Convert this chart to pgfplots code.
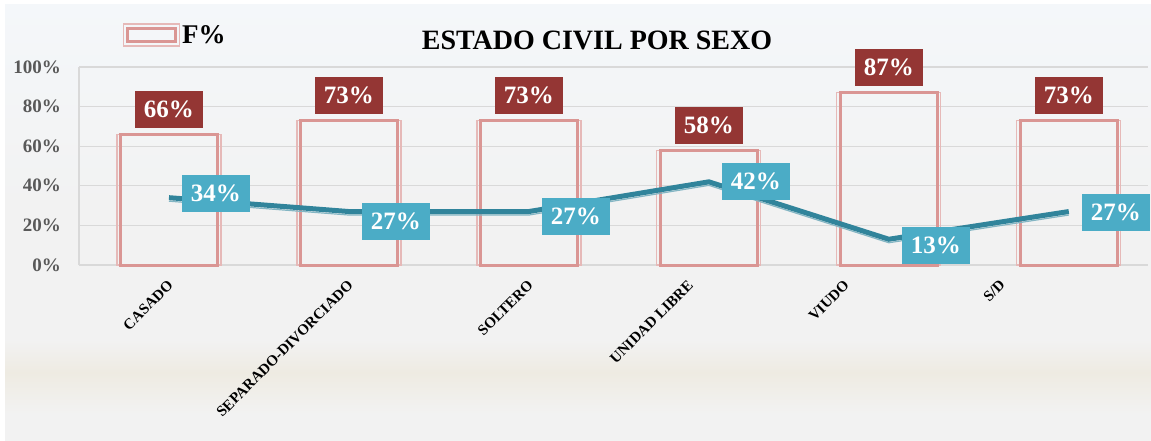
\documentclass[border=0pt]{standalone}
\usepackage{fontspec}
\setmainfont{Liberation Serif}
\usepackage{pgfplots}
\usepackage{pgfplotstable}
\pgfplotsset{compat=1.18}
\definecolor{barred}{HTML}{943634}
\definecolor{lblue}{HTML}{4BACC6}
\definecolor{linecol}{HTML}{31849B}
\definecolor{pinkdark}{HTML}{DA9694}
\definecolor{pinklight}{HTML}{E6B9B8}
\definecolor{gridc}{HTML}{D9D9D9}
\definecolor{tickc}{HTML}{595959}
\definecolor{bgtop}{HTML}{F4F7FA}
\definecolor{bgmid}{HTML}{F2F2F2}
\definecolor{bgbeige}{HTML}{EEEBE2}
\pgfdeclareverticalshading{bgshade}{100bp}{color(0bp)=(bgmid); color(25bp)=(bgmid); color(28bp)=(bgmid); color(32.8bp)=(bgbeige); color(36.5bp)=(bgmid); color(52bp)=(bgmid); color(75bp)=(bgtop); color(100bp)=(bgtop)}
\pgfplotstableread{
x y
0 66
1 73
2 73
3 58
4 87
5 73
}\bardata
\pgfplotstableread{
x y dy
0 34 4
1 27 -10
2 27 -5
3 42 0
4 13 -6
5 27 -1
}\linedata
\begin{document}
\begin{tikzpicture}[x=1pt,y=1pt]
\useasboundingbox (0,0) rectangle (1151,440);
\shade[shading=bgshade] (5,0) rectangle (1151,435);
\begin{axis}[
  at={(79pt,175pt)}, anchor=south west,
  width=1069pt, height=198pt, scale only axis,
  xmin=-0.5, xmax=5.44, ymin=0, ymax=100,
  clip=false,
  axis x line*=bottom, axis y line*=left,
  axis line style={draw=gridc, line width=1.2pt},
  ytick={0,20,...,100}, ymajorgrids,
  grid style={draw=gridc, line width=1.2pt},
  major tick length=0pt,
  xtick={0,1,2,2.889,3.756,4.622},
  xticklabels={CASADO,SEPARADO-DIVORCIADO,SOLTERO,UNIDAD LIBRE,VIUDO,S/D},
  xticklabel style={xshift=-2pt, yshift=-14pt, rotate=45, anchor=north east, inner sep=0pt, font=\fontsize{15}{16}\selectfont\bfseries},
  yticklabel={\pgfmathprintnumber{\tick}\%},
  yticklabel style={anchor=east, inner sep=0pt, xshift=-18pt, font=\fontsize{19}{20}\selectfont\bfseries, text=tickc},
  /pgf/number format/assume math mode=true,
  legend style={at={(0.041,1.162)}, anchor=west, draw=none, fill=none, font=\fontsize{27}{28}\selectfont\bfseries, inner sep=0pt},
  legend cell align=left,
]
\addplot[ybar, bar width=104pt, bar shift=0pt, draw=pinklight, line width=1.2pt, fill=none, forget plot] table[x=x,y=y] {\bardata};
\addplot[ybar, bar width=97pt, bar shift=0pt, draw=pinkdark, line width=3pt, fill=none,
  legend image code/.code={
    \draw[draw=pinklight, line width=1.2pt, fill=none] (0pt,-11pt) rectangle (56pt,11pt);
    \draw[draw=pinkdark, line width=3pt, fill=none] (4pt,-6.5pt) rectangle (52pt,6.5pt);
  },
  nodes near coords={\pgfmathprintnumber{\pgfplotspointmeta}\%},
  every node near coord/.append style={fill=barred, text=white, font=\fontsize{25}{26}\selectfont\bfseries, minimum width=68pt, minimum height=37pt, inner sep=0pt, anchor=south, yshift=5pt}
] table[x=x,y=y] {\bardata};
\addlegendentry{F\%}
\addplot[linecol!60, line width=1.2pt, yshift=-3.5pt, forget plot] table[x=x,y=y] {\linedata};
\addplot[linecol, line width=5pt, forget plot,
  visualization depends on={\thisrow{dy} \as \dy},
  nodes near coords={\pgfmathprintnumber{\pgfplotspointmeta}\%},
  every node near coord/.append style={fill=lblue, text=white, font=\fontsize{25}{26}\selectfont\bfseries, minimum width=68pt, minimum height=37pt, inner sep=0pt, anchor=center, xshift=47pt, yshift=\dy pt}
] table[x=x,y=y] {\linedata};
\end{axis}
\node[font=\fontsize{28}{30}\selectfont\bfseries] at (597,400) {ESTADO CIVIL POR SEXO};
\end{tikzpicture}
\end{document}
